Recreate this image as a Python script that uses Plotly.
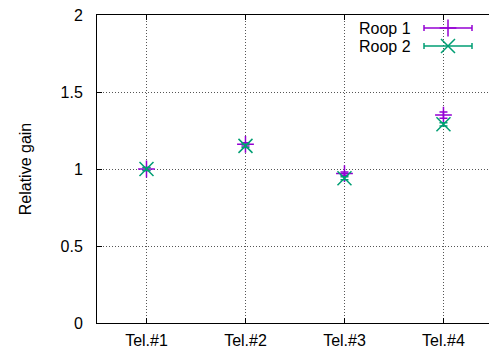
import plotly.graph_objects as go

# Telescope categories and relative gain per loop
telescopes = ["Tel.#1", "Tel.#2", "Tel.#3", "Tel.#4"]
roop1_gain = [1.00, 1.16, 0.97, 1.35]
roop1_err = [0.01, 0.01, 0.01, 0.02]
roop2_gain = [1.00, 1.15, 0.94, 1.29]
roop2_err = [0.01, 0.01, 0.01, 0.01]
y_ticks = [0, 0.5, 1, 1.5, 2]
y_tick_labels = ["0", "0.5", "1", "1.5", "2"]

PURPLE = "#9400d3"
GREEN = "#009e73"
FONT = dict(family="Liberation Sans, Arial, sans-serif", size=16, color="black")
GRID = dict(showgrid=True, gridcolor="#555555", griddash="1px,2px", gridwidth=1)

xpos = list(range(1, len(telescopes) + 1))

fig = go.Figure()
fig.add_trace(go.Scatter(
    x=xpos, y=roop1_gain, mode="markers", name="Roop 1",
    marker=dict(symbol="cross-thin", size=12, line=dict(color=PURPLE, width=1.5), color=PURPLE),
    error_y=dict(type="data", array=roop1_err, color=PURPLE, thickness=1.5, width=4),
    showlegend=False,
))
fig.add_trace(go.Scatter(
    x=xpos, y=roop2_gain, mode="markers", name="Roop 2",
    marker=dict(symbol="x-thin", size=14, line=dict(color=GREEN, width=1.5), color=GREEN),
    error_y=dict(type="data", array=roop2_err, color=GREEN, thickness=1.5, width=4),
    showlegend=False,
))

# Key drawn on a pixel-scaled overlay axis (plot area spans x 97..489, y 15..323)
key_rows = [("Roop 1", 28, PURPLE, "cross-thin", 12), ("Roop 2", 46, GREEN, "x-thin", 14)]
for label, ky, col, sym, sz in key_rows:
    fig.add_shape(type="line", xref="x2", yref="y2", x0=424, x1=472, y0=ky, y1=ky,
                  line=dict(color=col, width=1.5))
    for cx in (424, 472):
        fig.add_shape(type="line", xref="x2", yref="y2", x0=cx, x1=cx, y0=ky - 3, y1=ky + 3,
                      line=dict(color=col, width=1.5))
    fig.add_trace(go.Scatter(
        x=[448], y=[ky], xaxis="x2", yaxis="y2", mode="markers", showlegend=False,
        marker=dict(symbol=sym, size=sz, line=dict(color=col, width=1.5), color=col),
        hoverinfo="skip",
    ))
    fig.add_annotation(x=413, y=ky, xref="x2", yref="y2", text=label, showarrow=False,
                       xanchor="right", yanchor="middle", font=FONT)

fig.update_layout(
    width=489, height=353,
    margin=dict(l=97, r=0, t=15, b=30),
    paper_bgcolor="white", plot_bgcolor="white",
    font=FONT,
    xaxis=dict(
        range=[0.5, 4.46], tickvals=xpos, ticktext=telescopes,
        ticks="inside", ticklen=5, tickcolor="black",
        showline=True, linecolor="black", linewidth=1, mirror="ticks",
        zeroline=False, tickfont=FONT, ticklabelstandoff=3, **GRID,
    ),
    yaxis=dict(
        range=[0, 2], tickvals=y_ticks, ticktext=y_tick_labels,
        ticks="inside", ticklen=5, tickcolor="black",
        showline=True, linecolor="black", linewidth=1,
        zeroline=False, tickfont=FONT, ticklabelstandoff=10, **GRID,
        title=dict(text="Relative gain", font=FONT, standoff=24),
    ),
    xaxis2=dict(range=[97, 489], overlaying="x", visible=False, fixedrange=True),
    yaxis2=dict(range=[323, 15], overlaying="y", visible=False, fixedrange=True),
)

fig.write_html("out.html")
